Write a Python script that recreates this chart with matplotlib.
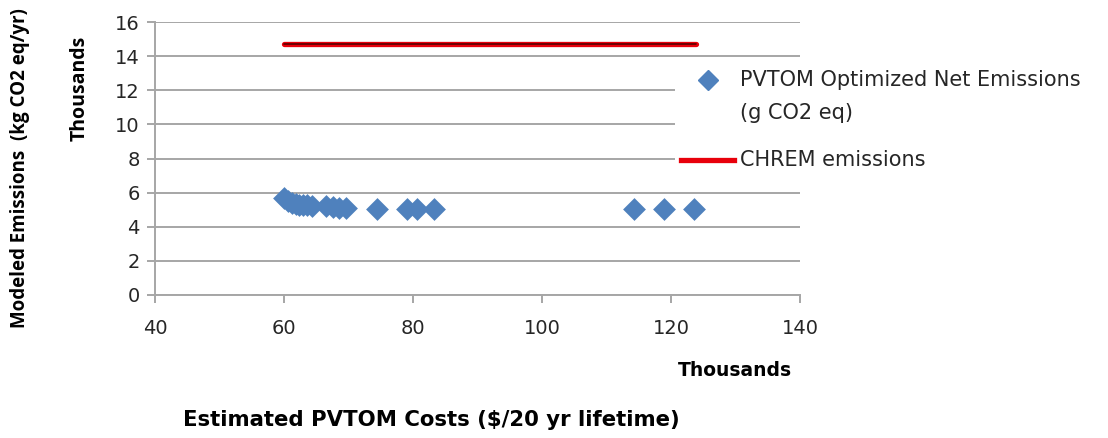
import matplotlib.pyplot as plt
from matplotlib.lines import Line2D
from matplotlib.patches import Rectangle

# Данные (тысячи)
cost_k = [60.0, 60.6, 61.2, 61.8, 62.4, 63.0, 63.6, 64.3, 66.5, 67.6, 68.6, 69.6,
          74.4, 79.0, 80.6, 83.3, 114.3, 118.9, 123.6]
emis_k = [5.68, 5.50, 5.40, 5.35, 5.30, 5.28, 5.25, 5.22, 5.20, 5.15, 5.12, 5.10,
          5.05, 5.05, 5.05, 5.05, 5.05, 5.05, 5.05]
chrem_x = [60.0, 123.8]
chrem_y = [14.72, 14.72]

plt.rcParams['font.family'] = ['DejaVu Sans']
grey = '#a6a6a6'
blue = '#4f81bd'
red = '#e8000b'
W, H = 1108, 438

fig = plt.figure(figsize=(W / 100, H / 100), dpi=100)
ax = fig.add_axes([155 / W, 1 - 295 / H, 645 / W, 273 / H])

ax.plot(chrem_x, chrem_y, color=red, linewidth=3.8, solid_capstyle='round', zorder=3)
ax.plot(chrem_x, chrem_y, color='#5a0000', linewidth=1.2, solid_capstyle='round', zorder=3)
ax.scatter(cost_k, emis_k, marker='D', s=135, color=blue, linewidths=0, zorder=4)

ax.set_xlim(40, 140)
ax.set_ylim(0, 16)
ax.set_xticks(range(40, 141, 20))
ax.set_yticks(range(0, 17, 2))
ax.yaxis.grid(True, color=grey, linewidth=1.4)
ax.set_axisbelow(True)
for s in ['top', 'right']:
    ax.spines[s].set_visible(False)
for s in ['left', 'bottom']:
    ax.spines[s].set_color(grey)
    ax.spines[s].set_linewidth(1.4)
ax.tick_params(direction='out', length=6, width=1.4, color=grey,
               labelsize=14, labelcolor='#262626', pad=5)
ax.tick_params(axis='x', pad=11)

# подписи осей
fig.text(20 / W, 1 - 168 / H, 'Modeled Emissions  (kg CO2 eq/yr)', rotation=90,
         ha='center', va='center', fontsize=13.5, fontweight='bold',
         family='Open Sans')
fig.text(80 / W, 1 - 88 / H, 'Thousands', rotation=90, ha='center', va='center',
         fontsize=14, fontweight='bold', family='Open Sans')
fig.text(735 / W, 1 - 370 / H, 'Thousands', ha='center', va='center',
         fontsize=13.5, fontweight='bold')
fig.text(431 / W, 1 - 420 / H, 'Estimated PVTOM Costs ($/20 yr lifetime)', ha='center',
         va='center', fontsize=15.3, fontweight='bold')

# легенда вручную (белая подложка поверх сетки)
fig.add_artist(Rectangle((675 / W, 1 - 178 / H), 430 / W, 112 / H,
                         transform=fig.transFigure, facecolor='white',
                         edgecolor='none', zorder=5))
fig.add_artist(Line2D([708 / W], [1 - 80 / H], marker='D', markersize=10.5,
                      color=blue, linestyle='none', transform=fig.transFigure, zorder=6))
fig.add_artist(Line2D([681 / W, 734 / W], [1 - 160 / H, 1 - 160 / H], color=red,
                      linewidth=3.8, transform=fig.transFigure, zorder=6))
fig.text(740 / W, 1 - 80 / H, 'PVTOM Optimized Net Emissions', ha='left', va='center',
         fontsize=15, color='#262626', zorder=7)
fig.text(740 / W, 1 - 113 / H, '(g CO2 eq)', ha='left', va='center',
         fontsize=15, color='#262626', zorder=7)
fig.text(740 / W, 1 - 160 / H, 'CHREM emissions', ha='left', va='center',
         fontsize=15, color='#262626', zorder=7)

fig.savefig('out.png', dpi=100)
